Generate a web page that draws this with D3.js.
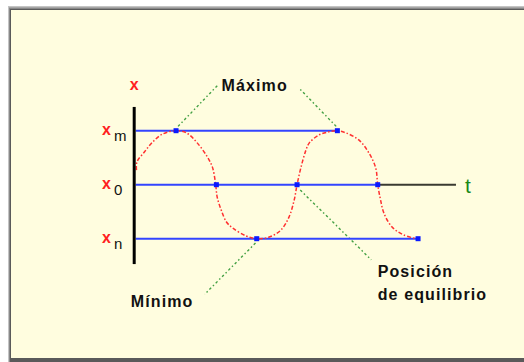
<!DOCTYPE html>
<html>
<head>
<meta charset="utf-8">
<script src="https://cdn.jsdelivr.net/npm/d3@7"></script>
<style>
  html, body { margin: 0; padding: 0; background: #ffffff; }
  svg { display: block; }
  text { font-family: "Liberation Sans", Arial, sans-serif; }
</style>
</head>
<body>
<svg id="chart" width="524" height="362"></svg>
<script>
// Displacement x(t) of an oscillator: sampled points (t in quarter periods, x in amplitudes)
const curveT = [0.02, 0.03, 0.22, 0.42, 0.67, 1.0, 1.26, 1.53, 1.78, 1.9, 1.98, 2.02, 2.12, 2.25, 2.4, 2.74, 2.99, 3.31, 3.6, 3.8, 3.93, 4.0, 4.1, 4.22, 4.3, 4.54, 4.79, 4.99, 5.21, 5.53, 5.78, 5.95, 6.0, 6.07, 6.15, 6.35, 6.64, 6.97];
const curveX = [0.27, 0.42, 0.61, 0.79, 0.94, 1.0, 0.96, 0.77, 0.51, 0.33, 0.02, -0.23, -0.47, -0.69, -0.8, -0.95, -1.0, -0.97, -0.84, -0.6, -0.28, 0.0, 0.33, 0.64, 0.77, 0.92, 0.98, 1.0, 0.96, 0.83, 0.59, 0.31, 0.0, -0.28, -0.52, -0.78, -0.93, -1.0];

// Reference levels: maximum, equilibrium, minimum
const levelNames = ["m", "0", "n"];
const levelValues = [1, 0, -1];
const levelEnds = [5, 6, 7];

// Marked instants on the curve
const markT = [1, 5, 2, 4, 6, 3, 7];
const markX = [1, 1, 0, 0, 0, -1, -1];

// Time axis extent
const tStart = 0;
const tEnd = 7.94;

const svg = d3.select("#chart");
const W = 524, H = 362;

// Panel frame
svg.append("rect").attr("x", 8).attr("y", 6).attr("width", W - 8).attr("height", H - 6).attr("fill", "#c4c4c4");
svg.append("rect").attr("x", 9).attr("y", 7.5).attr("width", W - 9).attr("height", H - 7.5).attr("fill", "#888888");
svg.append("rect").attr("x", 10).attr("y", 9).attr("width", W - 10).attr("height", H - 9).attr("fill", "#5a5a5a");
svg.append("rect").attr("x", 11).attr("y", 10).attr("width", W - 11).attr("height", 348).attr("fill", "#fffddf");

const xs = d3.scaleLinear().domain([0, 8]).range([135.7, 458.4]);
const ys = d3.scaleLinear().domain([-1, 1]).range([238.7, 130.7]);

// Leader lines (green, dash-dot)
const leaders = [
  { from: [1.05, 1.08], to: [2.03, 1.84] },
  { from: [4.97, 1.08], to: [4.06, 1.78] },
  { from: [2.97, -1.08], to: [1.71, -2.03] },
  { from: [4.08, -0.1], to: [5.84, -1.39] }
];
svg.append("g").selectAll("line").data(leaders).join("line")
  .attr("x1", d => xs(d.from[0])).attr("y1", d => ys(d.from[1]))
  .attr("x2", d => xs(d.to[0])).attr("y2", d => ys(d.to[1]))
  .attr("stroke", "#44a044").attr("stroke-width", 1.4)
  .attr("stroke-dasharray", "2.5,2.5,1.5,2.5");

// Time axis beyond the last equilibrium crossing
svg.append("line")
  .attr("x1", xs(6)).attr("x2", xs(tEnd))
  .attr("y1", ys(0)).attr("y2", ys(0))
  .attr("stroke", "#3a3a30").attr("stroke-width", 2);

// Horizontal level lines
svg.append("g").selectAll("line").data(levelValues).join("line")
  .attr("x1", xs(tStart)).attr("x2", (d, i) => xs(levelEnds[i]))
  .attr("y1", d => ys(d)).attr("y2", d => ys(d))
  .attr("stroke", "#3344ff").attr("stroke-width", 2);

// Oscillation curve
const pts = curveT.map((t, i) => [t, curveX[i]]);
svg.append("path")
  .attr("d", d3.line().x(d => xs(d[0])).y(d => ys(d[1])).curve(d3.curveCatmullRom)(pts))
  .attr("fill", "none").attr("stroke", "#ff3030").attr("stroke-width", 1.5)
  .attr("stroke-dasharray", "4,2,1.5,2");

// Markers
svg.append("g").selectAll("rect").data(markT).join("rect")
  .attr("x", d => xs(d) - 2.5).attr("y", (d, i) => ys(markX[i]) - 2.5)
  .attr("width", 5).attr("height", 5).attr("fill", "#0a1aff");

// Vertical x axis
svg.append("line")
  .attr("x1", xs(0) - 1.5).attr("x2", xs(0) - 1.5)
  .attr("y1", ys(1.44)).attr("y2", ys(-1.47))
  .attr("stroke", "#000").attr("stroke-width", 3);

// Axis names
svg.append("text").attr("x", xs(0) - 1.5).attr("y", ys(1.75)).attr("text-anchor", "middle")
  .attr("fill", "#ff2020").attr("font-size", 16).attr("font-weight", "bold").text("x");
svg.append("text").attr("x", xs(tEnd) + 9).attr("y", ys(0) + 8)
  .attr("fill", "#1a8a1a").attr("font-size", 21).text("t");

// Level labels x_m, x_0, x_n
const lg = svg.append("g").selectAll("text").data(levelValues).join("text")
  .attr("x", 102).attr("y", d => ys(d) + 4).attr("font-size", 16);
lg.append("tspan").attr("fill", "#ff2020").attr("font-weight", "bold").text("x");
lg.append("tspan").attr("fill", "#111").attr("dx", 3).attr("dy", 6).attr("font-size", 15)
  .text((d, i) => levelNames[i]);

// Annotation labels
const labels = [
  { lines: ["Máximo"], at: [2.13, 1.84] },
  { lines: ["Mínimo"], at: [-0.12, -2.15] },
  { lines: ["Posición", "de equilibrio"], at: [6.0, -1.6] }
];
const lt = svg.append("g").selectAll("text").data(labels).join("text")
  .attr("x", d => xs(d.at[0])).attr("y", d => ys(d.at[1]) + 6)
  .attr("fill", "#111").attr("font-size", 16).attr("font-weight", "bold").attr("letter-spacing", 1.1);
lt.selectAll("tspan").data(d => d.lines.map(l => ({ l, x: xs(d.at[0]) }))).join("tspan")
  .attr("x", d => d.x).attr("dy", (d, i) => i === 0 ? 0 : 23).text(d => d.l);
</script>
</body>
</html>
